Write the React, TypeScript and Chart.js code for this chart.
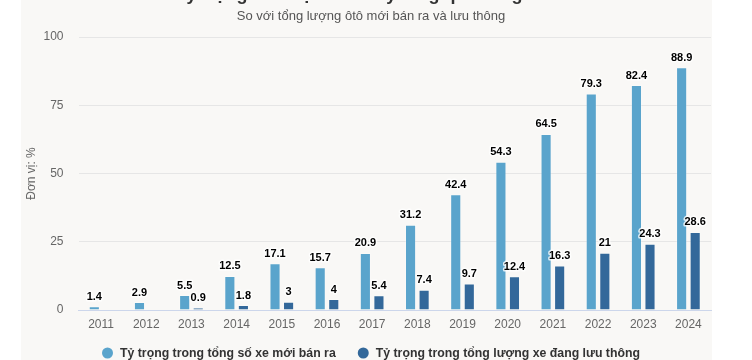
import React, { useEffect, useRef } from "react";
import { Chart, registerables } from "chart.js";

Chart.register(...registerables);

const years = ["2011", "2012", "2013", "2014", "2015", "2016", "2017", "2018", "2019", "2020", "2021", "2022", "2023", "2024"];
const newSalesShare = [1.4, 2.9, 5.5, 12.5, 17.1, 15.7, 20.9, 31.2, 42.4, 54.3, 64.5, 79.3, 82.4, 88.9];
const fleetShare = [null, null, 0.9, 1.8, 3, 4, 5.4, 7.4, 9.7, 12.4, 16.3, 21, 24.3, 28.6];
const seriesNames = ["Tỷ trọng trong tổng số xe mới bán ra", "Tỷ trọng trong tổng lượng xe đang lưu thông"];
const seriesColors = ["#5aa4cc", "#33689a"];
const titleText = "Tỷ trọng ôtô điện ở Na Uy tăng qua từng năm";
const subtitleText = "So với tổng lượng ôtô mới bán ra và lưu thông";
const yAxisTitle = "Đơn vị: %";
const yTicks = [0, 25, 50, 75, 100];

const FONT = "'Liberation Sans', Arial, sans-serif";

const textPlugin = {
  id: "textPlugin",
  afterDatasetsDraw(chart: any) {
    const ctx = chart.ctx;
    ctx.save();
    ctx.font = `bold 11px ${FONT}`;
    ctx.fillStyle = "#000";
    ctx.textAlign = "center";
    ctx.textBaseline = "bottom";
    chart.data.datasets.forEach((ds: any, di: number) => {
      const meta = chart.getDatasetMeta(di);
      meta.data.forEach((el: any, i: number) => {
        const v = ds.data[i];
        if (v === null || v === undefined) return;
        ctx.lineWidth = 3;
        ctx.strokeStyle = "rgba(255,255,255,0.8)";
        ctx.lineJoin = "round";
        ctx.strokeText(String(v), el.x, el.y - 4);
        ctx.fillText(String(v), el.x, el.y - 4);
      });
    });
    ctx.restore();
  },
  afterDraw(chart: any) {
    const ctx = chart.ctx;
    ctx.save();
    ctx.textAlign = "center";
    ctx.textBaseline = "alphabetic";
    ctx.font = `bold 18px ${FONT}`;
    ctx.fillStyle = "#333";
    ctx.fillText(titleText, 370, 0);
    ctx.font = `13px ${FONT}`;
    ctx.fillStyle = "#555";
    ctx.textBaseline = "middle";
    ctx.fillText(subtitleText, 371, 16);

    // legend
    ctx.font = `bold 12.3px ${FONT}`;
    ctx.textAlign = "left";
    const r = 5.5;
    const gapText = 7;
    const gapItems = 22;
    const widths = chart.data.datasets.map((ds: any) => 2 * r + gapText + ctx.measureText(ds.label).width);
    const total = widths.reduce((a: number, b: number) => a + b, 0) + gapItems * (widths.length - 1);
    let x = 371 - total / 2;
    const y = 354;
    chart.data.datasets.forEach((ds: any, i: number) => {
      ctx.beginPath();
      ctx.arc(x + r, y - 1, r, 0, Math.PI * 2);
      ctx.fillStyle = ds.backgroundColor;
      ctx.fill();
      ctx.fillStyle = "#333";
      ctx.fillText(ds.label, x + 2 * r + gapText, y);
      x += widths[i] + gapItems;
    });
    ctx.restore();
  },
};

export default function App() {
  const ref = useRef<HTMLCanvasElement | null>(null);
  useEffect(() => {
    if (!ref.current) return;
    const chart = new Chart(ref.current, {
      type: "bar",
      data: {
        labels: years,
        datasets: [
          {
            label: seriesNames[0],
            data: newSalesShare,
            backgroundColor: seriesColors[0],
            borderColor: "rgba(255,255,255,0.25)",
            borderWidth: 1,
            categoryPercentage: 0.6,
            barPercentage: 0.82,
          },
          {
            label: seriesNames[1],
            data: fleetShare as any,
            backgroundColor: seriesColors[1],
            borderColor: "rgba(255,255,255,0.25)",
            borderWidth: 1,
            categoryPercentage: 0.6,
            barPercentage: 0.82,
          },
        ],
      },
      options: {
        responsive: false,
        animation: false,
        layout: { padding: { top: 37, right: 41, left: 0, bottom: 20 } },
        plugins: {
          title: { display: false },
          subtitle: { display: false },
          tooltip: { enabled: false },
          legend: { display: false },
        },
        scales: {
          x: {
            grid: { display: false, drawTicks: false },
            border: { display: true, color: "#ccd6eb", width: 1 },
            ticks: { color: "#666", padding: 7, font: { family: FONT, size: 12 } },
            afterFit: (s: any) => {
              s.height = 30;
            },
          },
          y: {
            min: 0,
            max: 100,
            afterBuildTicks: (s: any) => {
              s.ticks = yTicks.map((v) => ({ value: v }));
            },
            grid: { color: "#e6e6e6", drawTicks: false },
            border: { display: false },
            ticks: { color: "#666", padding: 15, font: { family: FONT, size: 12 } },
            title: {
              display: true,
              text: yAxisTitle,
              color: "#666",
              font: { family: FONT, size: 12 },
              padding: { top: 24, bottom: 0 },
            },
            afterFit: (s: any) => {
              s.width = 78.5;
            },
          },
        },
      },
      plugins: [textPlugin],
    });
    return () => chart.destroy();
  }, []);

  return (
    <div style={{ position: "fixed", left: 0, top: 0, width: 752, height: 360, overflow: "hidden", background: "#fff" }}>
      <div style={{ position: "absolute", left: 21, top: 0, width: 691, height: 360, background: "#f9f8f6" }} />
      <canvas ref={ref} width={752} height={360} style={{ position: "absolute", left: 0, top: 0, width: 752, height: 360 }} />
    </div>
  );
}
